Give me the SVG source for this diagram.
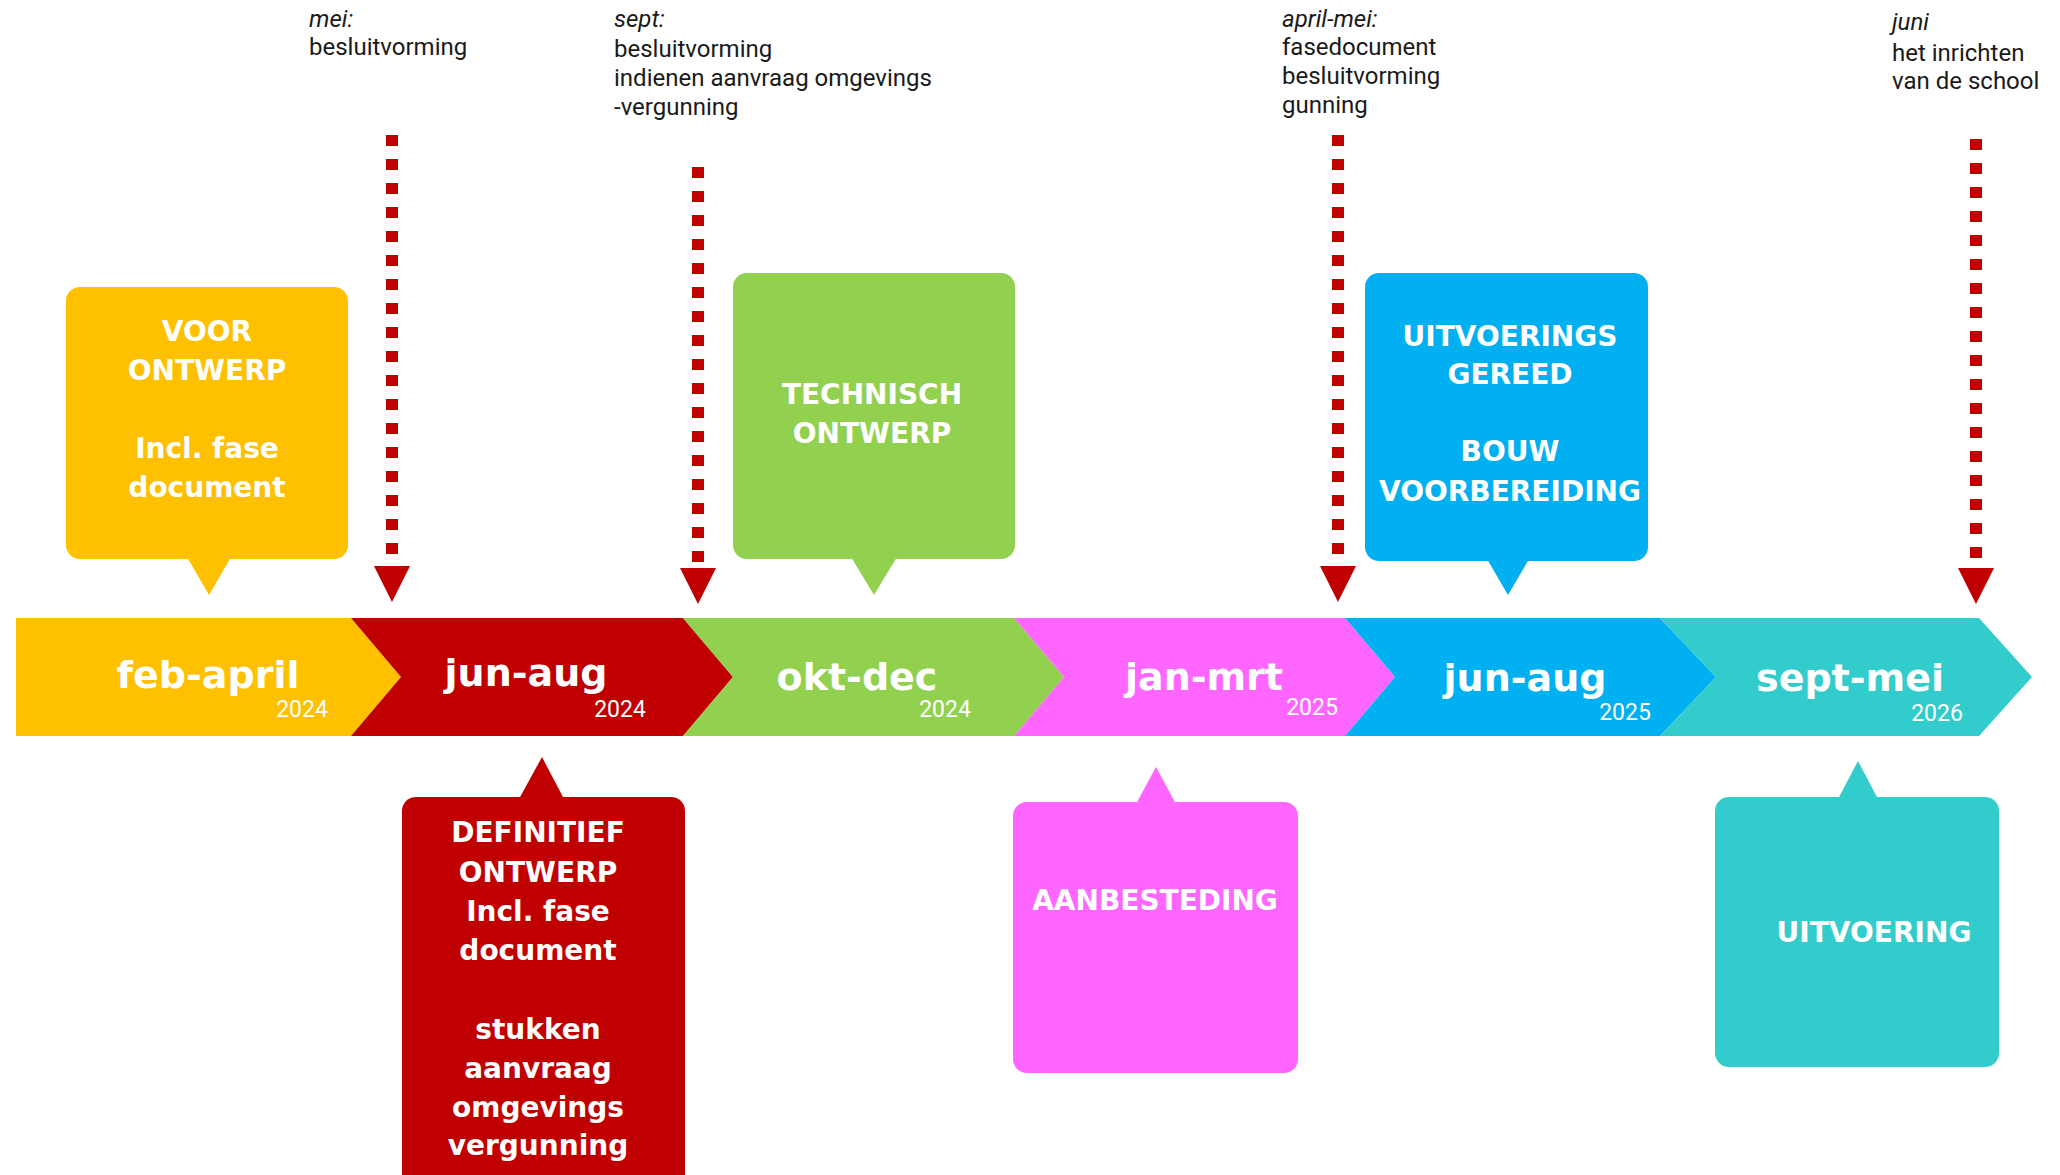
<svg xmlns="http://www.w3.org/2000/svg" width="2060" height="1175" viewBox="0 0 2060 1175">
<style>
.note{font-family:Roboto,"Liberation Sans",sans-serif;font-size:24px;fill:#1a1a1a}
.it{font-style:italic}
.lbl{font-family:"DejaVu Sans",sans-serif;font-weight:bold;font-size:38px;fill:#fff;text-anchor:middle}
.yr{font-family:Roboto,"Liberation Sans",sans-serif;font-size:23px;fill:#fff;text-anchor:middle}
.box{font-family:"DejaVu Sans",sans-serif;font-weight:bold;font-size:28px;fill:#fff;text-anchor:middle}
.dash{fill:none;stroke:#C00000;stroke-width:12;stroke-dasharray:11 13;marker-end:url(#ah)}
</style>
<defs>
<marker id="ah" markerUnits="userSpaceOnUse" viewBox="0 0 36 36" markerWidth="36" markerHeight="36" refX="0" refY="18" orient="auto">
<path d="M0,0 L36,18 L0,36 Z" fill="#C00000"/>
</marker>
</defs>
<rect width="2060" height="1175" fill="#fff"/>

<g id="notes">
<text class="note" x="309" y="27"><tspan class="it">mei:</tspan><tspan x="309" y="55">besluitvorming</tspan></text>
<text class="note" x="614" y="27"><tspan class="it">sept:</tspan><tspan x="614" y="57">besluitvorming</tspan><tspan x="614" y="86">indienen aanvraag omgevings</tspan><tspan x="614" y="115">-vergunning</tspan></text>
<text class="note" x="1282" y="27"><tspan class="it">april-mei:</tspan><tspan x="1282" y="55">fasedocument</tspan><tspan x="1282" y="84">besluitvorming</tspan><tspan x="1282" y="113">gunning</tspan></text>
<text class="note" x="1892" y="30"><tspan class="it">juni</tspan><tspan x="1892" y="61">het inrichten</tspan><tspan x="1892" y="89">van de school</tspan></text>
</g>

<g id="connectors">
<path class="dash" d="M392,135 V566"/>
<path class="dash" d="M698,167 V568"/>
<path class="dash" d="M1338,135 V566"/>
<path class="dash" d="M1976,139 V568"/>
</g>

<g id="seg-feb-april">
<polygon points="16,618 351,618 401,677 351,736 16,736" fill="#FFC000"/>
<text class="lbl" x="208" y="688">feb-april</text>
<text class="yr" x="302" y="717">2024</text>
</g>
<g id="seg-jun-aug-2024">
<polygon points="351,618 683,618 733,677 683,736 351,736 401,677" fill="#C00000"/>
<text class="lbl" x="526" y="686">jun-aug</text>
<text class="yr" x="620" y="717">2024</text>
</g>
<g id="seg-okt-dec">
<polygon points="683,618 1014,618 1064,677 1014,736 683,736 733,677" fill="#92D050"/>
<text class="lbl" x="857" y="690">okt-dec</text>
<text class="yr" x="945" y="717">2024</text>
</g>
<g id="seg-jan-mrt">
<polygon points="1014,618 1345,618 1395,677 1345,736 1014,736 1064,677" fill="#FF66FF"/>
<text class="lbl" x="1204" y="690">jan-mrt</text>
<text class="yr" x="1312" y="715">2025</text>
</g>
<g id="seg-jun-aug-2025">
<polygon points="1345,618 1660,618 1716,677 1660,736 1345,736 1395,677" fill="#00B0F0"/>
<text class="lbl" x="1525" y="691">jun-aug</text>
<text class="yr" x="1625" y="720">2025</text>
</g>
<g id="seg-sept-mei">
<polygon points="1660,618 1979,618 2032,677 1979,736 1660,736 1716,677" fill="#33CCCC"/>
<text class="lbl" x="1850" y="691">sept-mei</text>
<text class="yr" x="1937" y="721">2026</text>
</g>

<g id="box-voorontwerp">
<rect x="66" y="287" width="282" height="272" rx="14" fill="#FFC000"/>
<polygon points="187,557 231,557 209,595" fill="#FFC000"/>
<text class="box" x="207" y="341">VOOR</text>
<text class="box" x="207" y="380">ONTWERP</text>
<text class="box" x="207" y="458">Incl. fase</text>
<text class="box" x="207" y="497">document</text>
</g>
<g id="box-technisch">
<rect x="733" y="273" width="282" height="286" rx="14" fill="#92D050"/>
<polygon points="851,557 897,557 874,595" fill="#92D050"/>
<text class="box" x="872" y="404">TECHNISCH</text>
<text class="box" x="872" y="443">ONTWERP</text>
</g>
<g id="box-uitvoeringsgereed">
<rect x="1365" y="273" width="283" height="288" rx="14" fill="#00B0F0"/>
<polygon points="1487,559 1529,559 1508,595" fill="#00B0F0"/>
<text class="box" x="1510" y="346">UITVOERINGS</text>
<text class="box" x="1510" y="384">GEREED</text>
<text class="box" x="1510" y="461">BOUW</text>
<text class="box" x="1510" y="501">VOORBEREIDING</text>
</g>
<g id="box-definitief">
<rect x="402" y="797" width="283" height="400" rx="14" fill="#C00000"/>
<polygon points="519,799 564,799 542,757" fill="#C00000"/>
<text class="box" x="538" y="842">DEFINITIEF</text>
<text class="box" x="538" y="882">ONTWERP</text>
<text class="box" x="538" y="921">Incl. fase</text>
<text class="box" x="538" y="960">document</text>
<text class="box" x="538" y="1039">stukken</text>
<text class="box" x="538" y="1078">aanvraag</text>
<text class="box" x="538" y="1117">omgevings</text>
<text class="box" x="538" y="1155">vergunning</text>
</g>
<g id="box-aanbesteding">
<rect x="1013" y="802" width="285" height="271" rx="14" fill="#FF66FF"/>
<polygon points="1136,804 1176,804 1156,767" fill="#FF66FF"/>
<text class="box" x="1155" y="910">AANBESTEDING</text>
</g>
<g id="box-uitvoering">
<rect x="1715" y="797" width="284" height="270" rx="14" fill="#33CCCC"/>
<polygon points="1838,799 1878,799 1858,761" fill="#33CCCC"/>
<text class="box" x="1874" y="942">UITVOERING</text>
</g>
</svg>
